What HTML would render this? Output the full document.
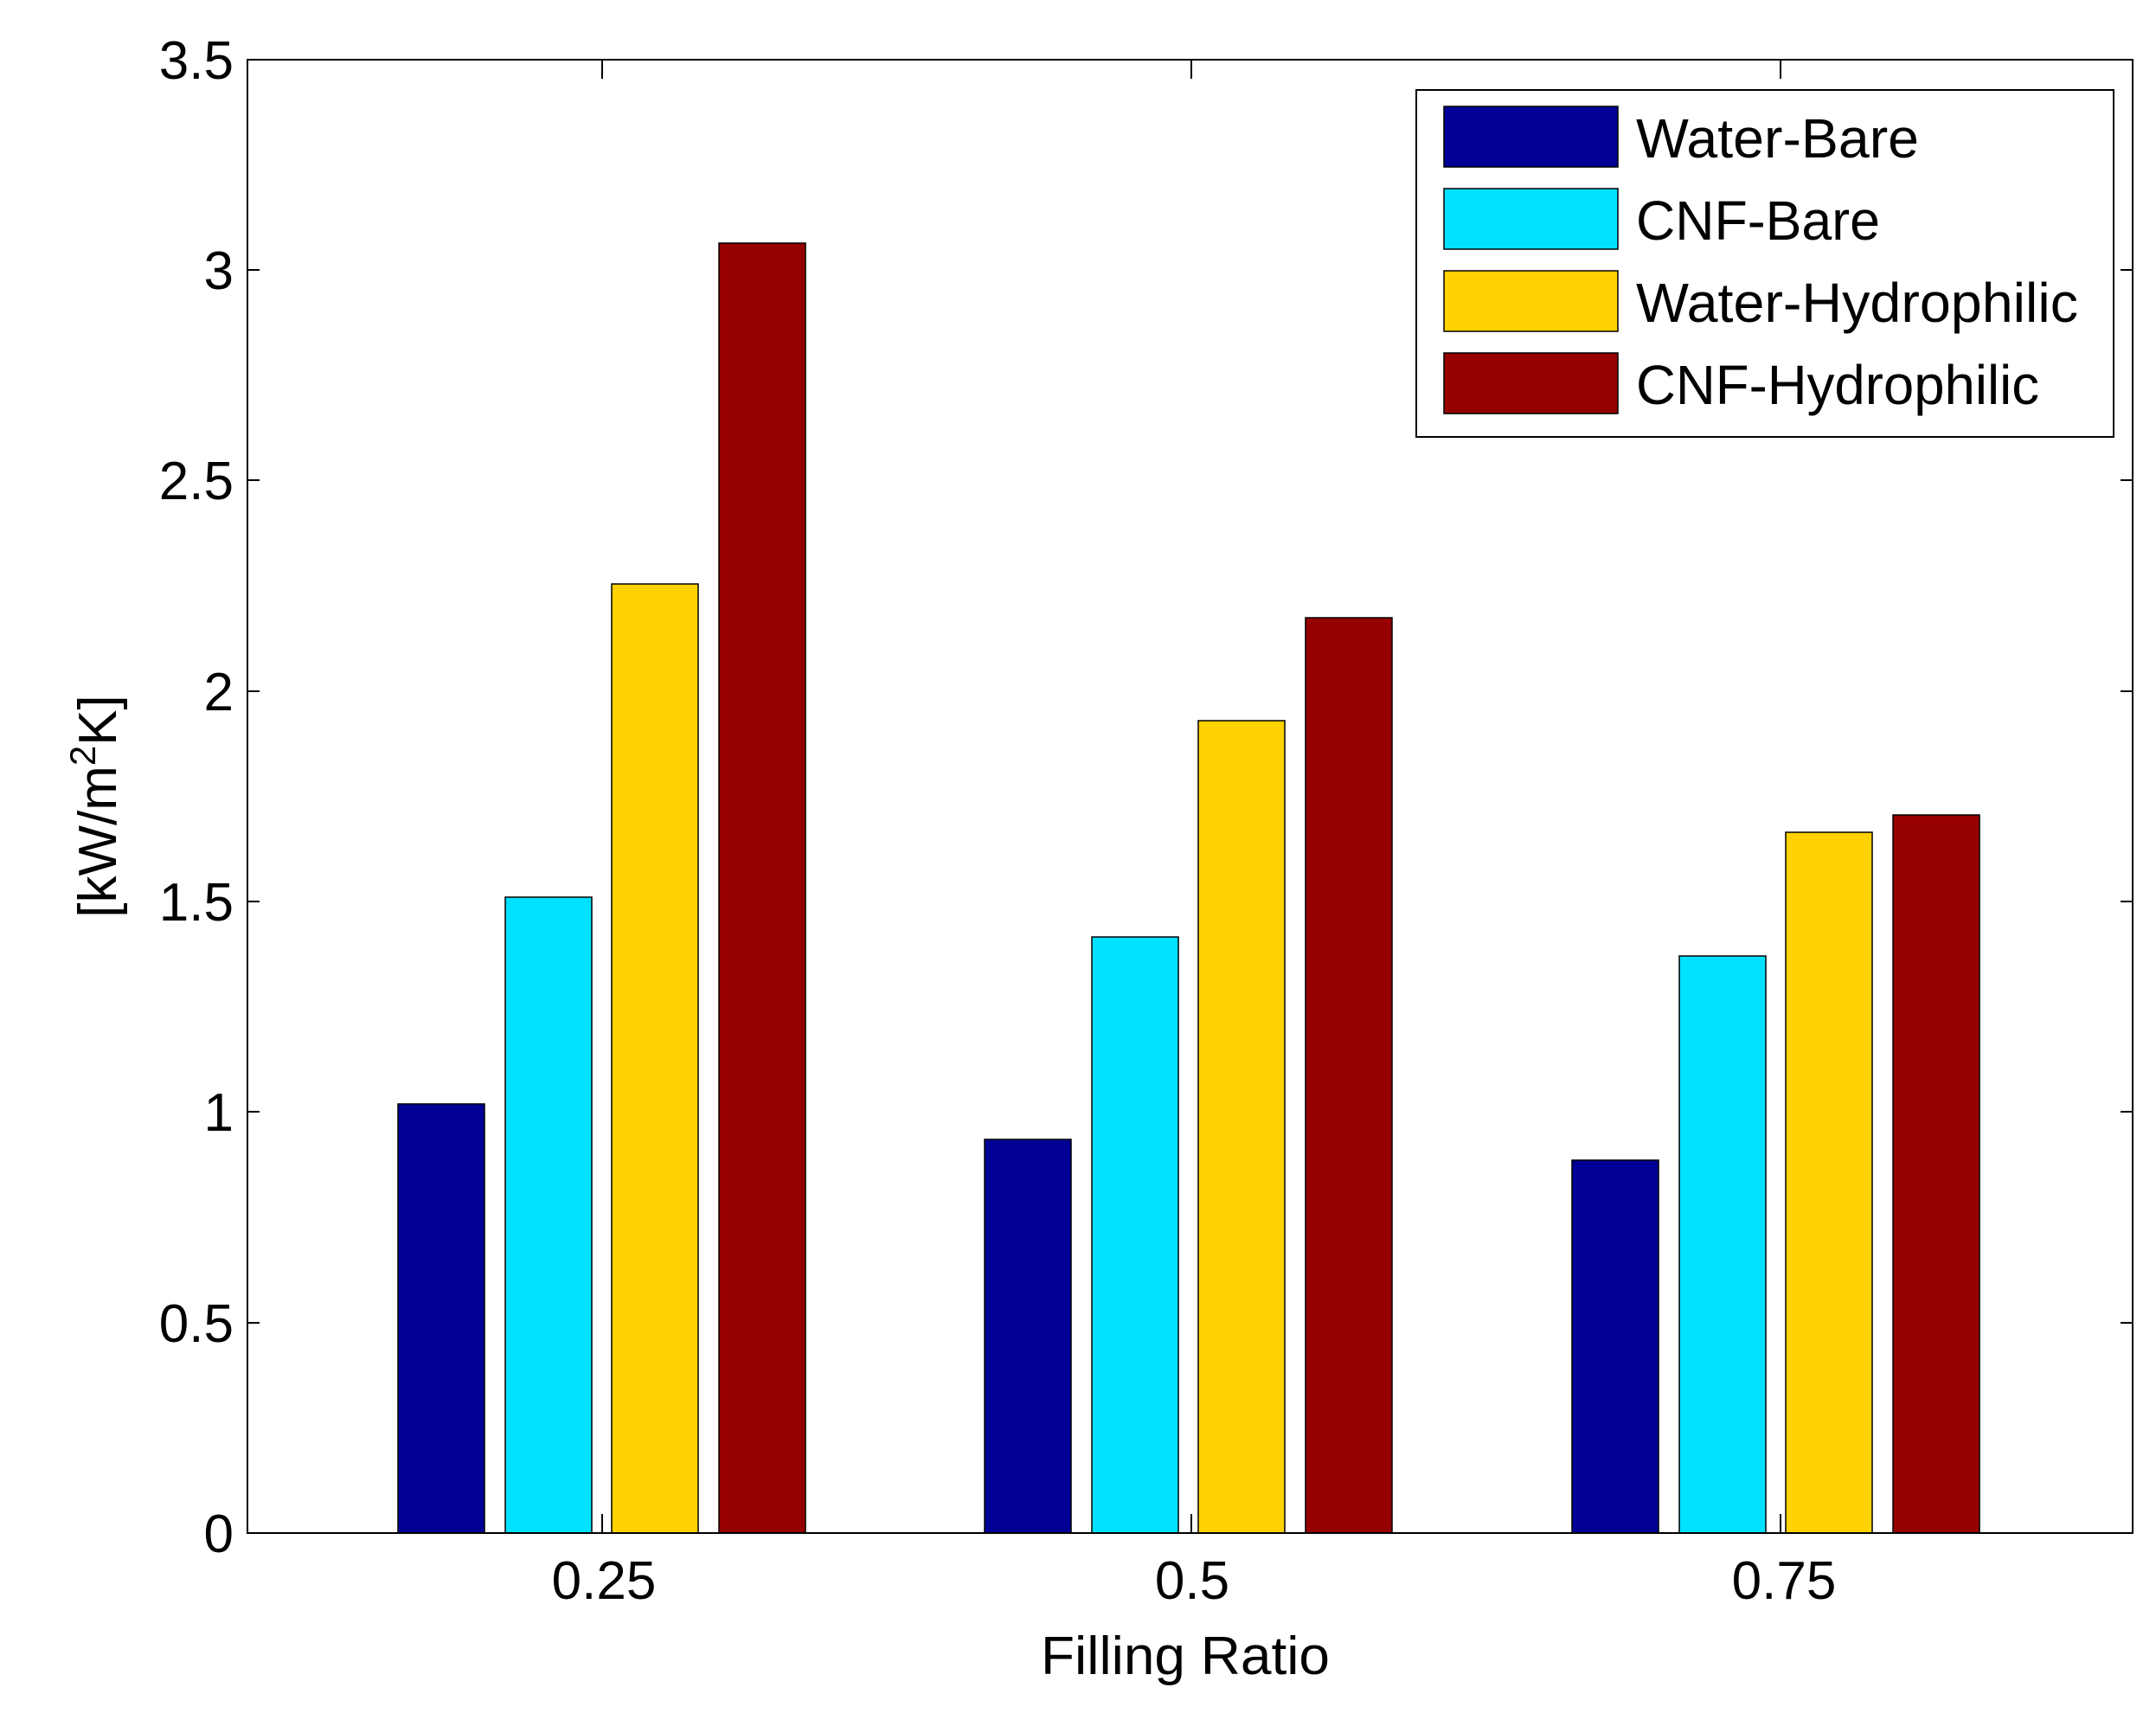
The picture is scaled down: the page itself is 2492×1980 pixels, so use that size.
<!DOCTYPE html>
<html><head><meta charset="utf-8"><style>html,body{margin:0;padding:0;background:#fff}svg{display:block}</style></head>
<body>
<svg width="2492" height="1980" viewBox="0 0 2492 1980" xmlns="http://www.w3.org/2000/svg" font-family="Liberation Sans, Arial, sans-serif">
<rect width="2492" height="1980" fill="#fff"/>
<g stroke="#000" stroke-width="1.5">
<rect x="460" y="1276" width="100" height="496" fill="#000096"/>
<rect x="584" y="1037" width="100" height="735" fill="#00E1FF"/>
<rect x="707" y="675" width="100" height="1097" fill="#FFD200"/>
<rect x="831" y="281" width="100" height="1491" fill="#960000"/>
<rect x="1138" y="1317" width="100" height="455" fill="#000096"/>
<rect x="1262" y="1083" width="100" height="689" fill="#00E1FF"/>
<rect x="1385" y="833" width="100" height="939" fill="#FFD200"/>
<rect x="1509" y="714" width="100" height="1058" fill="#960000"/>
<rect x="1817" y="1341" width="100" height="431" fill="#000096"/>
<rect x="1941" y="1105" width="100" height="667" fill="#00E1FF"/>
<rect x="2064" y="962" width="100" height="810" fill="#FFD200"/>
<rect x="2188" y="942" width="100" height="830" fill="#960000"/>
</g>
<g stroke="#000" stroke-width="2" fill="none">
<rect x="286" y="69" width="2179" height="1703"/>
<path d="M286 1772h14M2465 1772h-14M286 1529h14M2465 1529h-14M286 1285h14M2465 1285h-14M286 1042h14M2465 1042h-14M286 799h14M2465 799h-14M286 555h14M2465 555h-14M286 312h14M2465 312h-14
M696 1772v-22M696 69v22M1377 1772v-22M1377 69v22M2058 1772v-22M2058 69v22"/>
</g>
<g font-size="62" fill="#000" text-anchor="end">
<text x="270" y="1794">0</text>
<text x="270" y="1551">0.5</text>
<text x="270" y="1307">1</text>
<text x="270" y="1064">1.5</text>
<text x="270" y="821">2</text>
<text x="270" y="577">2.5</text>
<text x="270" y="334">3</text>
<text x="270" y="91">3.5</text>
</g>
<g font-size="62" fill="#000" text-anchor="middle">
<text x="698" y="1848">0.25</text>
<text x="1378" y="1848">0.5</text>
<text x="2062" y="1848">0.75</text>
<text x="1370" y="1935" textLength="334" lengthAdjust="spacingAndGlyphs">Filling Ratio</text>
</g>
<text transform="translate(134,932) rotate(-90)" font-size="62" text-anchor="middle" fill="#000">[kW/m<tspan font-size="42" dy="-24">2</tspan><tspan dy="24">K]</tspan></text>
<rect x="1637" y="104" width="806" height="401" fill="#fff" stroke="#000" stroke-width="2"/>
<g stroke="#000" stroke-width="1.5">
<rect x="1669" y="123" width="201" height="70" fill="#000096"/>
<rect x="1669" y="218" width="201" height="70" fill="#00E1FF"/>
<rect x="1669" y="313" width="201" height="70" fill="#FFD200"/>
<rect x="1669" y="408" width="201" height="70" fill="#960000"/>
</g>
<g font-size="64" fill="#000">
<text x="1891" y="182" textLength="327" lengthAdjust="spacingAndGlyphs">Water-Bare</text>
<text x="1891" y="277" textLength="282" lengthAdjust="spacingAndGlyphs">CNF-Bare</text>
<text x="1891" y="372" textLength="511" lengthAdjust="spacingAndGlyphs">Water-Hydrophilic</text>
<text x="1891" y="467" textLength="466" lengthAdjust="spacingAndGlyphs">CNF-Hydrophilic</text>
</g>
</svg>
</body></html>
